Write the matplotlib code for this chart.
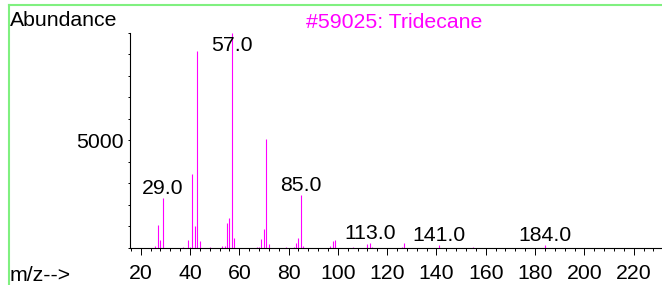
import matplotlib
matplotlib.use("Agg")
import matplotlib.pyplot as plt
from matplotlib.ticker import MultipleLocator, FuncFormatter
from matplotlib.lines import Line2D

plt.rcParams['font.family'] = ['Liberation Sans', 'DejaVu Sans']

# library spectrum of tridecane (m/z, abundance)
mz = [26, 27, 28, 29, 37, 39, 40, 41, 42, 43, 44, 48,
      53, 54, 55, 56, 57, 58, 67, 68, 69, 70, 71, 72,
      79, 82, 83, 84, 85, 86, 97, 98, 99, 106, 112, 113, 114,
      126, 127, 141, 155, 184]
abund = [110, 1050, 360, 2320, 30, 360, 40, 3420, 1000, 9130, 310, 30,
         95, 80, 1160, 1390, 10000, 450, 30, 50, 420, 870, 5060, 170,
         30, 40, 230, 460, 2450, 95, 95, 325, 370, 25, 190, 240, 30,
         40, 230, 130, 30, 140]

peak_labels = [29, 57, 85, 113, 141, 184]
xticks = [20, 40, 60, 80, 100, 120, 140, 160, 180, 200, 220]

FS = 15.3
W, H = 662, 285
fig = plt.figure(figsize=(W / 100, H / 100), dpi=100)
ax = fig.add_axes([130 / W, 1 - 248 / H, 532 / W, (248 - 32.5) / H])

ax.vlines(mz, 0, abund, colors='#ff00ff', lw=0.8)

for m in peak_labels:
    h = abund[mz.index(m)]
    ax.annotate('%.1f' % m, (m, min(h, 8950)), xytext=(0, 3),
                textcoords='offset points', ha='center', va='baseline',
                fontsize=FS, color='black')

ax.set_xlim(15.66, 231.5)
ax.set_ylim(0, 10000)
ax.xaxis.set_major_locator(MultipleLocator(20))
ax.xaxis.set_minor_locator(MultipleLocator(4))
ax.set_xticks(xticks)
ax.yaxis.set_major_locator(MultipleLocator(1000))
ax.yaxis.set_major_formatter(FuncFormatter(lambda v, p: '5000' if v == 5000 else ''))

ax.tick_params(axis='x', which='major', length=4.8, width=0.7, labelsize=FS, pad=7)
ax.tick_params(axis='x', which='minor', length=2.4, width=0.7)
ax.tick_params(axis='y', which='major', length=1.8, width=0.7, labelsize=FS, pad=3)

for s in ['top', 'right']:
    ax.spines[s].set_visible(False)
for s in ['left', 'bottom']:
    ax.spines[s].set_linewidth(0.8)
ax.patch.set_alpha(0)

fig.text(10 / W, 1 - 26 / H, 'Abundance', fontsize=FS, va='baseline', ha='left')
fig.text(306 / W, 1 - 28 / H, '#59025: Tridecane', fontsize=FS, va='baseline',
         ha='left', color='#ff00ff')
fig.text(10 / W, 1 - 281 / H, 'm/z-->', fontsize=FS, va='baseline', ha='left')

# green frame at top and left
fig.add_artist(Line2D([9 / W, 9 / W], [0, 1 - 5 / H], transform=fig.transFigure,
                      color='#80f080', lw=1.5))
fig.add_artist(Line2D([9 / W, 1], [1 - 5 / H, 1 - 5 / H], transform=fig.transFigure,
                      color='#80f080', lw=1.5))

fig.savefig('out.png', dpi=100)
